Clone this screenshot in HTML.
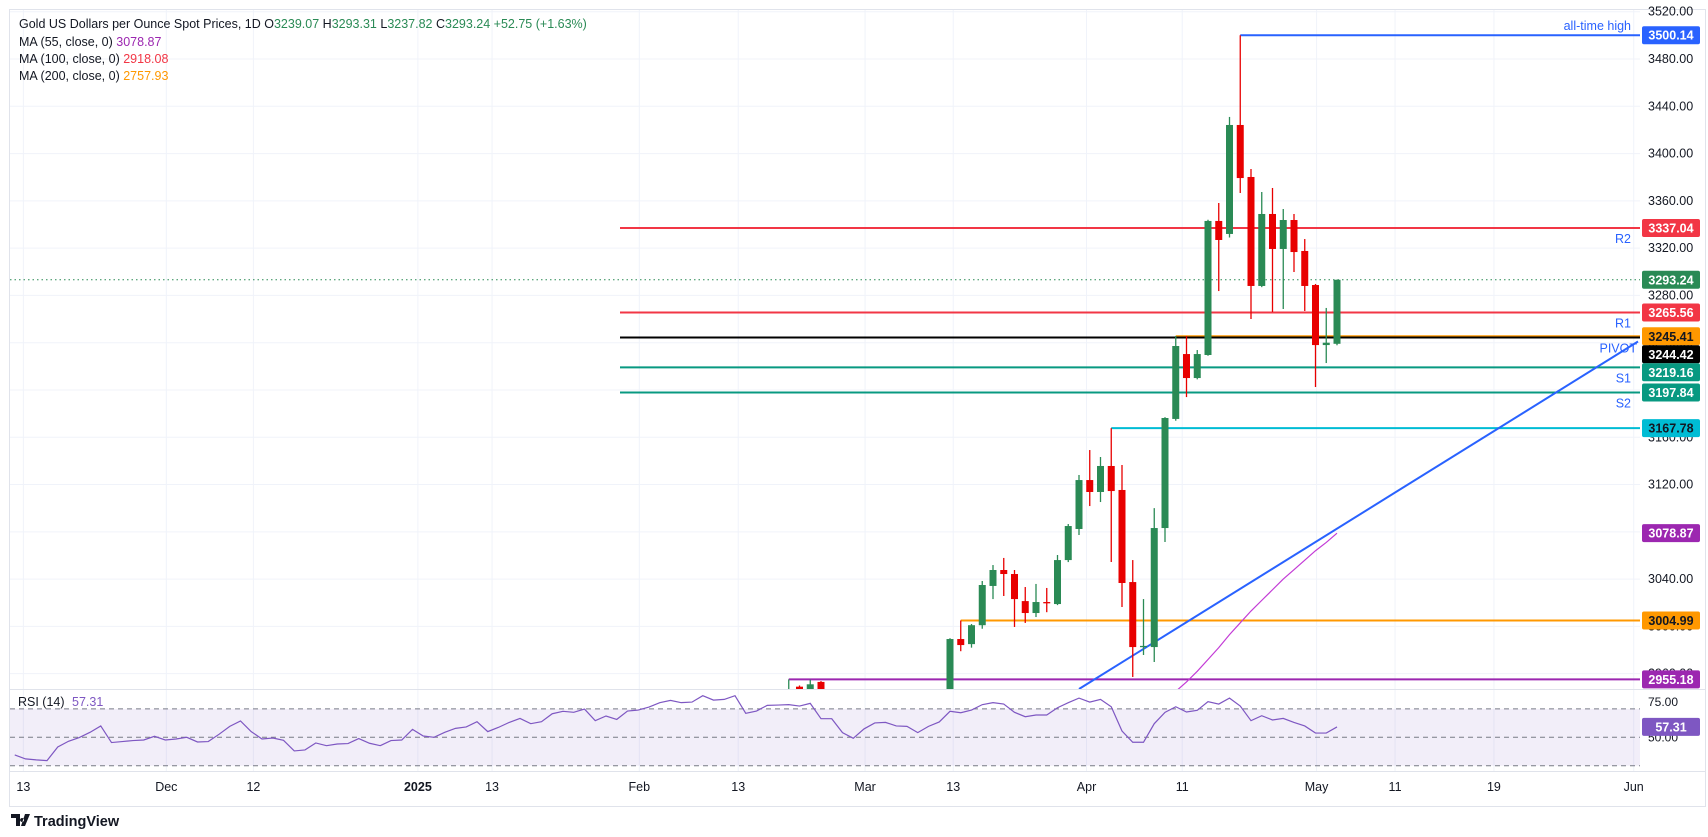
<!DOCTYPE html>
<html><head><meta charset="utf-8">
<style>
html,body{margin:0;padding:0;background:#fff;}
svg{display:block;font-family:"Liberation Sans",Arial,sans-serif;}
</style></head>
<body>
<svg id="chart" width="1708" height="837" viewBox="0 0 1708 837">
  <rect x="0" y="0" width="1708" height="837" fill="#ffffff"/>
  <rect x="9.5" y="9.5" width="1696" height="797" fill="none" stroke="#e0e3eb"/>
  <g id="grid"></g>
  <defs><clipPath id="mainClip"><rect x="10" y="10" width="1630" height="679"/></clipPath>
  <clipPath id="rsiClip"><rect x="10" y="691" width="1630" height="80"/></clipPath></defs>
  <g id="levels" clip-path="url(#mainClip)"></g>
  <g id="candles" clip-path="url(#mainClip)"></g>
  <g id="ma" clip-path="url(#mainClip)"></g>
  <line x1="10" y1="689.5" x2="1706" y2="689.5" stroke="#e0e3eb"/>
  <g id="rsi"></g>
  <line x1="10" y1="771.5" x2="1706" y2="771.5" stroke="#e0e3eb"/>
  <g id="yaxis"></g>
  <g id="xaxis"></g>
  <g id="boxes"></g>

  <g font-size="12.5">
    <text x="19" y="28" fill="#131722">Gold US Dollars per Ounce Spot Prices, 1D <tspan fill="#131722">O</tspan><tspan fill="#2a8a55">3239.07</tspan> <tspan>H</tspan><tspan fill="#2a8a55">3293.31</tspan> <tspan>L</tspan><tspan fill="#2a8a55">3237.82</tspan> <tspan>C</tspan><tspan fill="#2a8a55">3293.24 +52.75 (+1.63%)</tspan></text>
    <text x="19" y="46" fill="#131722">MA (55, close, 0) <tspan fill="#9c27b0">3078.87</tspan></text>
    <text x="19" y="63" fill="#131722">MA (100, close, 0) <tspan fill="#f23645">2918.08</tspan></text>
    <text x="19" y="80" fill="#131722">MA (200, close, 0) <tspan fill="#ff9800">2757.93</tspan></text>
    <text x="18" y="706" fill="#131722">RSI (14) <tspan fill="#7e57c2" dx="4">57.31</tspan></text>
  </g>
  <g>
    <path d="M11 814h9v12h-4v-8h-5z M22 818a2 2 0 1 0 0.1 0z M25 814h5l-5 12h-4z" fill="#131722"/>
    <text x="34" y="826" font-size="14.5" font-weight="bold" fill="#131722">TradingView</text>
  </g>
</svg>
<script>
const NS='http://www.w3.org/2000/svg';
// ---- data ----
const barsBack=[51,50,49,48,47,46,45,44,43,42,41,40,39,38,37,36,35,34,33,32,31,30,29,28,27,26,25,24,23,22,21,20,19,18,17,16,15,14,13,12,11,10,9,8,7,6,5,4,3,2,1,0];
const opens =[2930,2949,2945,2953,2940,2925,2910,2895,2905,2912,2920,2915,2925,2930,2932,2935,2989.3,2985,3001,3034.2,3047.7,3044.3,3021.4,3011.3,3020.6,3018.9,3056.1,3082.4,3123.8,3113.7,3135.7,3115.4,3037.5,2982.5,2982.5,3083.2,3175.5,3230.4,3210.1,3229.6,3343,3332,3424.2,3380.2,3288,3348.9,3319.3,3343.8,3317.6,3288.8,3238,3239.07];
const highs =[2955.18,2950,2955,2953.7,2944,2935,2925,2915,2920,2925,2935,2930,2940,2942,2943,2990,3005,3002,3038.4,3051.9,3057.9,3047.7,3033.3,3035.9,3032.5,3060.4,3086.6,3128.1,3149.2,3143.3,3167.78,3136.5,3056.1,3023.1,3100.1,3177,3245.7,3245.7,3233.8,3344,3358.2,3431,3500.14,3387,3367.5,3370.9,3353.1,3348.9,3327.7,3289.7,3269.4,3293.31];
const lows  =[2925,2930,2940,2940,2920,2905,2890,2885,2895,2905,2910,2908,2915,2920,2925,2925,2979,2982,2998,3023.1,3025.7,2999.5,3002.9,3007.9,3012,3018,3054.4,3077.3,3101.8,3105.2,3054.5,3016.4,2957.2,2975.8,2969.9,3071.4,3174,3194,3209,3229,3283.7,3329,3366.6,3260,3287,3266,3268.5,3299.8,3266.8,3202.5,3222.8,3237.82];
const closes=[2940,2947,2951,2946,2925,2910,2895,2905,2912,2920,2915,2925,2930,2932,2935,2989.3,2984.2,3001,3035,3047.7,3044.3,3023.1,3011.3,3020.6,3019.8,3056.1,3084.9,3123.8,3113.7,3135.7,3114.5,3036.7,2982.5,2983.5,3083.2,3176.3,3237.2,3210.1,3230.4,3343,3326.9,3424.2,3379.3,3288,3348.9,3319.3,3343.8,3316.7,3288,3238,3240,3293.24];
const maBarsBack=[15,14,13,12,11,10,9,8,7,6,5,4,3,2,1,0];
const ma55=[2945,2953,2962,2972,2982,2993,3003,3013,3022,3031,3040,3048,3056,3064,3071,3078.87];
const rsiValues=[37.6,34.8,34.1,33.6,43.2,47.2,49.8,53.5,58.0,46.3,47.0,47.7,48.1,50.7,48.1,48.8,50.0,46.7,47.0,52.1,57.7,61.5,54.0,48.8,49.5,47.9,40.4,41.1,46.0,44.1,45.3,45.6,49.1,45.8,44.1,47.7,48.1,55.6,50.9,50.0,53.5,56.3,57.3,61.0,
54.0,57.0,60.5,63.3,59.6,61.0,66.6,68.3,67.6,69.9,61.7,65.0,62.6,68.5,69.2,71.3,74.4,76.0,74.4,74.8,79.3,76.2,76.7,79.3,66.9,68.5,72.5,72.7,73.0,72.0,73.9,63.1,63.1,53.3,49.3,55.9,60.1,60.5,58.0,57.7,53.3,57.7,60.8,68.3,
67.3,69.2,73.0,74.4,73.4,67.6,64.5,65.7,65.7,70.8,74.4,77.6,74.8,76.7,71.5,54.4,46.5,46.5,59.6,67.6,71.5,67.8,69.0,75.1,73.4,77.6,72.0,61.7,65.2,62.2,63.3,60.5,58.0,53.0,53.0,57.31];
const priceTicks=[3520,3480,3440,3400,3360,3320,3280,3240,3200,3160,3120,3080,3040,3000,2960];
const timeLabels=['13','Dec','12','2025','13','Feb','13','Mar','13','Apr','11','May','11','19','Jun'];
const timeLabelBars=[122.2,108.9,100.8,85.5,78.6,64.9,55.7,43.9,35.7,23.3,14.4,1.9,-5.4,-14.6,-27.6];
const levelNames=['all-time-high','r2','r1','orange-level','pivot','s1','s2','cyan-level','orange-low-level','purple-level'];
const levelPrices=[3500.14,3337.04,3265.56,3245.41,3244.42,3219.16,3197.84,3167.78,3004.99,2955.18];
const levelStartBar=[9,null,null,15,null,null,null,21,35,51];
const levelColors=['#2962ff','#f23645','#f23645','#ff9800','#000000','#089981','#089981','#00bcd4','#ff9800','#9c27b0'];
const levelTags=['all-time high','R2','R1','','PIVOT','S1','S2','','',''];
const boxPrices=[3500.14,3337.04,3293.24,3265.56,3245.41,3244.42,3219.16,3197.84,3167.78,3078.87,3004.99,2955.18];
const boxColors=['#2962ff','#f23645','#2a8a55','#f23645','#ff9800','#000000','#089981','#089981','#00bcd4','#9c27b0','#ff9800','#9c27b0'];
const boxTextColors=['#fff','#fff','#fff','#fff','#131722','#fff','#fff','#fff','#131722','#fff','#131722','#fff'];
const lastPrice=3293.24;
const trendStart=[24,2947];   // [barsBack, price]
const trendEnd=[-28,3241];

// ---- scales ----
const LASTX=1337, STEP=10.75;
const xOf=b=>LASTX-b*STEP;
const yOf=p=>228+(3337.04-p)*1.182;
const rY=v=>737.3+(50-v)*1.42;
function el(tag,attrs,parent){const e=document.createElementNS(NS,tag);for(const k in attrs)e.setAttribute(k,attrs[k]);parent.appendChild(e);return e;}

const grid=document.getElementById('grid');
priceTicks.forEach(p=>{const l=el('line',{x1:10,x2:1640,y1:yOf(p),y2:yOf(p),stroke:'#f0f3fa'},grid);

});
timeLabelBars.forEach(b=>{const l=el('line',{x1:xOf(b),x2:xOf(b),y1:10,y2:771,stroke:'#f0f3fa'},grid);

});

// levels
const lv=document.getElementById('levels');
levelPrices.forEach((p,i)=>{
  const x1=levelStartBar[i]===null?620:xOf(levelStartBar[i]);
  const l=el('line',{x1:x1,x2:1640,y1:yOf(p),y2:yOf(p),stroke:levelColors[i],'stroke-width':2},lv);
  
  
});
const cur=el('line',{x1:10,x2:1640,y1:yOf(lastPrice),y2:yOf(lastPrice),stroke:'#2a8a55','stroke-width':1,'stroke-dasharray':'1.5 3'},lv);


const tl=el('line',{x1:xOf(trendStart[0]),y1:yOf(trendStart[1]),x2:xOf(trendEnd[0]),y2:yOf(trendEnd[1]),stroke:'#2962ff','stroke-width':2},lv);


// level tags
const svg=document.getElementById('chart');
const tagY={'all-time high':-9,'R2':11,'R1':11,'PIVOT':11,'S1':11,'S2':11};
levelTags.forEach((t,i)=>{ if(!t) return;
  const tx=el('text',{x:t==='PIVOT'?1637:1631,y:yOf(levelPrices[i])+tagY[t]+4,'text-anchor':'end','font-size':12.5,fill:'#2962ff'},svg);
  tx.textContent=t;
  
  
});

// candles
const cg=document.getElementById('candles');
barsBack.forEach((b,i)=>{
  const x=xOf(b), up=closes[i]>=opens[i], col=up?'#2a8a55':'#e80000';
  const g=el('g',{},cg);
  
  
  el('line',{x1:x,x2:x,y1:yOf(highs[i]),y2:yOf(lows[i]),stroke:col,'stroke-width':1.3},g);
  const top=yOf(Math.max(opens[i],closes[i])), bot=yOf(Math.min(opens[i],closes[i]));
  el('rect',{x:x-3.5,y:top,width:7,height:Math.max(1.3,bot-top),fill:col},g);
});

// MA
const mg=document.getElementById('ma');
const mp=el('polyline',{points:maBarsBack.map((b,i)=>xOf(b)+','+yOf(ma55[i])).join(' '),fill:'none',stroke:'#c33bd6','stroke-width':1.2},mg);



// RSI
const rg=document.getElementById('rsi');
const band=el('rect',{x:10,y:rY(70),width:1630,height:rY(30)-rY(70),fill:'rgba(126,87,194,0.1)'},rg);


[70,50,30].forEach(v=>{const l=el('line',{x1:10,x2:1640,y1:rY(v),y2:rY(v),stroke:'#787b86','stroke-dasharray':'5 4'},rg);

});
const n=rsiValues.length;
const rl=el('polyline',{points:rsiValues.map((v,i)=>xOf(n-1-i)+','+rY(v)).join(' '),fill:'none',stroke:'#7e57c2','stroke-width':1.2,'clip-path':'url(#rsiClip)'},rg);


[[75,'75.00'],[50,'50.00']].forEach(([v,t])=>{const tx=el('text',{x:1648,y:rY(v)+4,'font-size':12,fill:'#131722'},rg);tx.textContent=t;

});

// y axis
const ya=document.getElementById('yaxis');
priceTicks.forEach(p=>{const y=yOf(p); if(y<5||y>688) return;
  const t=el('text',{x:1648,y:y+4,'font-size':12.5,fill:'#131722'},ya);t.textContent=p.toFixed(2);
  
  });
// x axis
const xa=document.getElementById('xaxis');
timeLabels.forEach((s,i)=>{const t=el('text',{x:xOf(timeLabelBars[i]),y:791,'text-anchor':'middle','font-size':12.5,fill:'#131722','font-weight':s==='2025'?'bold':'normal'},xa);t.textContent=s;
  
  });

// price boxes (with simple de-overlap)
const bx=document.getElementById('boxes');
let centers=boxPrices.map(yOf);
for(let k=1;k<centers.length;k++){ if(centers[k]-centers[k-1]<18) centers[k]=centers[k-1]+18; }
boxPrices.forEach((p,i)=>{
  const g=el('g',{},bx);
  
  
  el('rect',{x:1642,y:centers[i]-9,width:58,height:18,rx:2,fill:boxColors[i]},g);
  const t=el('text',{x:1671,y:centers[i]+4.5,'text-anchor':'middle','font-size':12.5,'font-weight':'bold',fill:boxTextColors[i]},g);
  t.textContent=p.toFixed(2);
});
const rb=el('g',{},bx);


el('rect',{x:1642,y:rY(57.31)-9,width:58,height:18,rx:2,fill:'#7e57c2'},rb);
const rbt=el('text',{x:1671,y:rY(57.31)+4.5,'text-anchor':'middle','font-size':12.5,'font-weight':'bold',fill:'#fff'},rb);
rbt.textContent='57.31';
</script>
</body></html>
